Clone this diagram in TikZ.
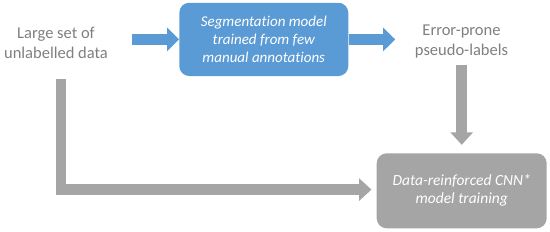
\documentclass[tikz,border=0pt]{standalone}
\usepackage{fontspec}
\setmainfont[Ligatures=NoCommon]{Carlito}
\usetikzlibrary{arrows.meta}
\definecolor{officeblue}{HTML}{5B9BD5}
\definecolor{arrowgray}{HTML}{A5A5A5}
\definecolor{labelgray}{HTML}{7F7F7F}
\tikzset{
  plainlabel/.style={text=labelgray, align=center, inner sep=0pt, font={\fontsize{16.5}{20}\selectfont}},
  procbox/.style={rounded corners=10pt, align=center, text=white, inner sep=0pt,
    font={\fontsize{15}{18.3}\selectfont\itshape}},
  bluebar/.style={draw=officeblue, line width=10.7pt, -{Triangle[length=12pt,width=23pt]}},
  graybar/.style={draw=arrowgray, line width=10.6pt, -{Triangle[length=12.5pt,width=22pt]}}
}
\begin{document}
\begin{tikzpicture}[x=1pt,y=-1pt]
\useasboundingbox (0,0) rectangle (550,231);
\node[plainlabel] (left) at (56,42.5) {Large set of\\unlabelled data};
\node[plainlabel] (right) at (461.5,42) {Error-prone\\pseudo-labels};
\node[procbox, fill=officeblue, minimum width=169pt, minimum height=73.3pt] (blue) at (263.8,39.4)
  {Segmentation model\\trained from few\\manual annotations};
\node[procbox, fill=arrowgray, minimum width=170pt, minimum height=75pt,
  font={\fontsize{15.5}{18}\selectfont\itshape}] (gray) at (461.7,190.8)
  {Data-reinforced CNN*\\model training};
\coordinate (Lstart) at (60.8,78.7);
\draw[bluebar] ([xshift=-47.3pt]blue.west) -- (blue.west);
\draw[bluebar] (blue.east) -- ([xshift=46.7pt]blue.east);
\draw[graybar] ([yshift=88.3pt]gray.north) -- ([yshift=8.3pt]gray.north);
\draw[graybar] (Lstart) |- ([xshift=-5pt,yshift=1.2pt]gray.west);
\end{tikzpicture}
\end{document}
